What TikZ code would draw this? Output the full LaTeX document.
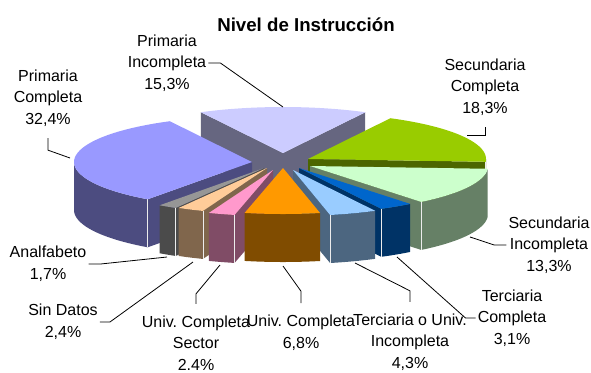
\documentclass[tikz,border=0pt]{standalone}
\usepackage{fontspec}
\setmainfont{Liberation Sans}
\frenchspacing

\definecolor{primInc}{HTML}{CCCCFF}
\definecolor{secComp}{HTML}{99CC00}
\definecolor{primComp}{HTML}{9999FF}
\definecolor{secInc}{HTML}{CCFFCC}
\definecolor{terComp}{HTML}{0066CC}
\definecolor{analfCol}{HTML}{969696}
\definecolor{sinDat}{HTML}{FFCC99}
\definecolor{terUniv}{HTML}{99CCFF}
\definecolor{univSec}{HTML}{FF99CC}
\definecolor{univComp}{HTML}{FF9900}

% pie radii and thickness, in px
\newcommand{\pieR}{178}
\newcommand{\pier}{46}
\newcommand{\pieh}{48}

% apex x, apex y, low angle, high angle, colour
\newcommand{\pieslice}[5]{%
  \pgfmathsetmacro{\pieWa}{max(#3,-180)}
  \pgfmathsetmacro{\pieWb}{min(#4,0)}
  \pgfmathtruncatemacro{\pieWall}{\pieWa<\pieWb}
  \pgfmathtruncatemacro{\pieLo}{cos(#3)>0}
  \pgfmathtruncatemacro{\pieHi}{cos(#4)<0}
  \ifnum\pieWall=1
    \fill[#5!50!black] plot[variable=\t, domain=\pieWa:\pieWb, samples=40]
      ({#1+\pieR*cos(\t)}, {#2-\pier*sin(\t)})
      -- plot[variable=\t, domain=\pieWb:\pieWa, samples=40]
      ({#1+\pieR*cos(\t)}, {#2-\pier*sin(\t)+\pieh}) -- cycle;
  \fi
  \ifnum\pieLo=1
    \fill[#5!50!black] (#1,#2) -- ({#1+\pieR*cos(#3)}, {#2-\pier*sin(#3)})
      -- ++(0,\pieh) -- (#1,{#2+\pieh}) -- cycle;
    \draw[corner] ({#1+\pieR*cos(#3)}, {#2-\pier*sin(#3)}) -- ++(0,\pieh);
  \fi
  \ifnum\pieHi=1
    \fill[#5!50!black] (#1,#2) -- ({#1+\pieR*cos(#4)}, {#2-\pier*sin(#4)})
      -- ++(0,\pieh) -- (#1,{#2+\pieh}) -- cycle;
    \draw[corner] ({#1+\pieR*cos(#4)}, {#2-\pier*sin(#4)}) -- ++(0,\pieh);
  \fi
  \fill[#5] (#1,#2) -- plot[variable=\t, domain=#3:#4, samples=40]
    ({#1+\pieR*cos(\t)}, {#2-\pier*sin(\t)}) -- cycle;
}

\begin{document}
\begin{tikzpicture}[
    x=0.75pt, y=-0.75pt,
    lbl/.style={
      align=center,
      inner sep=1.5pt,
      font=\fontsize{12}{16.3}\selectfont
    },
    leader/.style={draw=black, line width=0.6pt},
    corner/.style={draw=white!85!gray, line width=0.6pt}
  ]

  \useasboundingbox (0,0) rectangle (591,372);

  \node[font=\bfseries\fontsize{14}{17}\selectfont, anchor=base] (title) at (306,31) {Nivel de Instrucción};

  % slices, back to front
  \pieslice{283}{153}{62.42}{117.5}{primInc}
  \pieslice{308}{159}{-3.46}{62.42}{secComp}
  \pieslice{252}{162}{-242.5}{-125.86}{primComp}
  \pieslice{310}{166}{-51.34}{-3.46}{secInc}
  \pieslice{299}{168}{-62.5}{-51.34}{terComp}
  \pieslice{264}{168}{-125.86}{-119.74}{analfCol}
  \pieslice{267}{168}{-119.74}{-111.1}{sinDat}
  \pieslice{293}{170}{-77.98}{-62.5}{terUniv}
  \pieslice{273}{170}{-111.1}{-102.46}{univSec}
  \pieslice{283}{168}{-102.46}{-77.98}{univComp}

  % labels
  \node[lbl] (pinc) at (167,63) {Primaria\\Incompleta\\15,3\%};
  \node[lbl] (pcomp) at (48,98) {Primaria\\Completa\\32,4\%};
  \node[lbl] (scomp) at (485,87) {Secundaria\\Completa\\18,3\%};
  \node[lbl] (sinc) at (549,245) {Secundaria\\Incompleta\\13,3\%};
  \node[lbl] (tcomp) at (512,318) {Terciaria\\Completa\\3,1\%};
  \node[lbl] (tuinc) at (410,342) {Terciaria o Univ.\\Incompleta\\4,3\%};
  \node[lbl] (ucomp) at (301,332.5) {Univ. Completa\\6,8\%};
  \node[lbl] (ucsec) at (196,343) {Univ. Completa\\Sector\\2.4\%};
  \node[lbl] (sdat) at (63,322) {Sin Datos\\2,4\%};
  \node[lbl] (analf) at (48,264) {Analfabeto\\1,7\%};

  \coordinate (pinc-tip) at (283,107);
  \coordinate (pcomp-tip) at (70,158);
  \coordinate (scomp-tip) at (467,135);
  \coordinate (sinc-tip) at (470,237);
  \coordinate (tcomp-tip) at (397,257);
  \coordinate (tuinc-tip) at (355,263);
  \coordinate (ucomp-tip) at (283,266);
  \coordinate (ucsec-tip) at (220,265);
  \coordinate (sdat-tip) at (193,262);
  \coordinate (analf-tip) at (167,257);

  % leader lines
  \draw[leader] (pinc.east) -- ++(12,0) -- (pinc-tip);
  \draw[leader] ([yshift=-7pt]pcomp.south) -- ++(0,12) -- (pcomp-tip);
  \draw[leader] ([yshift=-7pt]scomp.south) |- (scomp-tip);
  \draw[leader] (sinc.west) -- ++(-12,0) -- (sinc-tip);
  \draw[leader] (tcomp.west) -- ++(-10,0) -- (tcomp-tip);
  \draw[leader] ([yshift=7pt]tuinc.north) -- ++(0,-11) -- (tuinc-tip);
  \draw[leader] ([yshift=7pt]ucomp.north) -- ++(0,-12) -- (ucomp-tip);
  \draw[leader] ([yshift=7pt]ucsec.north) -- ++(0,-10) -- (ucsec-tip);
  \draw[leader] (sdat.east) -- ++(10,0) -- (sdat-tip);
  \draw[leader] (analf.east) -- ++(12,0) -- (analf-tip);

\end{tikzpicture}
\end{document}
